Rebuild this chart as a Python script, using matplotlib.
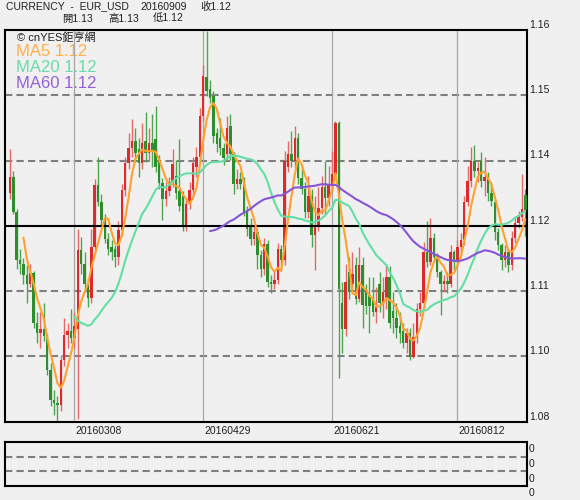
import matplotlib
matplotlib.use('Agg')
import matplotlib.pyplot as plt
import numpy as np

plt.rcParams['font.family'] = ['Liberation Sans', 'Noto Sans CJK TC', 'DejaVu Sans']

# ---------------- data ----------------
opens = [
    1.1266, 1.1299, 1.1229, 1.1130, 1.1122, 1.1099, 1.1080, 1.1103, 1.1002, 1.0981,
    1.0990, 1.0975, 1.0905, 1.0843, 1.0837, 1.0833, 1.0926, 1.0977, 1.0985, 1.0971,
    1.0990, 1.1151, 1.1122, 1.1080, 1.1053, 1.1157, 1.1284, 1.1249, 1.1212, 1.1173,
    1.1157, 1.1153, 1.1136, 1.1192, 1.1274, 1.1328, 1.1359, 1.1373, 1.1357, 1.1328,
    1.1373, 1.1348, 1.1369, 1.1378, 1.1330, 1.1287, 1.1254, 1.1270, 1.1290, 1.1301,
    1.1270, 1.1260, 1.1198, 1.1245, 1.1274, 1.1320, 1.1340, 1.1424, 1.1503, 1.1480,
    1.1466, 1.1390, 1.1380, 1.1359, 1.1346, 1.1404, 1.1346, 1.1285, 1.1295, 1.1291,
    1.1229, 1.1200, 1.1173, 1.1188, 1.1140, 1.1111, 1.1163, 1.1085, 1.1080, 1.1090,
    1.1153, 1.1130, 1.1320, 1.1346, 1.1332, 1.1380, 1.1297, 1.1276, 1.1229, 1.1260,
    1.1182, 1.1200, 1.1236, 1.1280, 1.1256, 1.1284, 1.1305, 1.1410, 1.1043, 1.0990,
    1.1105, 1.1080, 1.1120, 1.1051, 1.1120, 1.1070, 1.1058, 1.1050, 1.1023, 1.1080,
    1.1043, 1.1051, 1.1095, 1.1025, 1.1012, 1.0995, 1.0985, 1.0961, 1.0981, 1.0932,
    1.0973, 1.1029, 1.1043, 1.1146, 1.1126, 1.1175, 1.1136, 1.1105, 1.1080, 1.1088,
    1.1080, 1.1146, 1.1126, 1.1157, 1.1170, 1.1249, 1.1291, 1.1332, 1.1311, 1.1332,
    1.1291, 1.1301, 1.1266, 1.1249, 1.1188, 1.1160, 1.1130, 1.1146, 1.1120, 1.1175,
    1.1205, 1.1218, 1.1262,
]
highs = [
    1.1357, 1.1311, 1.1235, 1.1153, 1.1134, 1.1120, 1.1122, 1.1108, 1.1023, 1.1023,
    1.1043, 1.0981, 1.0920, 1.0864, 1.0852, 1.0936, 1.1012, 1.1002, 1.1029, 1.1023,
    1.1194, 1.1177, 1.1146, 1.1094, 1.1194, 1.1295, 1.1340, 1.1265, 1.1225, 1.1185,
    1.1170, 1.1160, 1.1210, 1.1285, 1.1340, 1.1390, 1.1418, 1.1400, 1.1380, 1.1410,
    1.1433, 1.1400, 1.1429, 1.1445, 1.1345, 1.1297, 1.1290, 1.1300, 1.1357, 1.1335,
    1.1377, 1.1270, 1.1255, 1.1290, 1.1340, 1.1360, 1.1440, 1.1528, 1.1598, 1.1497,
    1.1475, 1.1400, 1.1420, 1.1370, 1.1425, 1.1429, 1.1350, 1.1315, 1.1310, 1.1300,
    1.1240, 1.1215, 1.1200, 1.1195, 1.1150, 1.1175, 1.1170, 1.1100, 1.1110, 1.1165,
    1.1160, 1.1353, 1.1373, 1.1394, 1.1404, 1.1390, 1.1322, 1.1290, 1.1301, 1.1275,
    1.1260, 1.1280, 1.1301, 1.1332, 1.1322, 1.1353, 1.1414, 1.1414, 1.1085, 1.1122,
    1.1136, 1.1146, 1.1136, 1.1157, 1.1136, 1.1080, 1.1095, 1.1095, 1.1075, 1.1105,
    1.1095, 1.1122, 1.1118, 1.1064, 1.1043, 1.1023, 1.1002, 1.0992, 1.0992, 1.1002,
    1.1043, 1.1064, 1.1167, 1.1210, 1.1215, 1.1185, 1.1145, 1.1110, 1.1100, 1.1105,
    1.1160, 1.1150, 1.1170, 1.1185, 1.1260, 1.1322, 1.1360, 1.1365, 1.1330, 1.1350,
    1.1340, 1.1310, 1.1290, 1.1255, 1.1195, 1.1165, 1.1160, 1.1155, 1.1190, 1.1215,
    1.1230, 1.1305, 1.1275,
]
lows = [
    1.1254, 1.1223, 1.1111, 1.1101, 1.1080, 1.1043, 1.1074, 1.0992, 1.0961, 1.0951,
    1.0965, 1.0895, 1.0831, 1.0813, 1.0802, 1.0821, 1.0914, 1.0951, 1.0961, 1.0951,
    1.0805, 1.1101, 1.1064, 1.1033, 1.1043, 1.1150, 1.1240, 1.1200, 1.1165, 1.1140,
    1.1130, 1.1115, 1.1120, 1.1180, 1.1260, 1.1315, 1.1340, 1.1330, 1.1300, 1.1315,
    1.1330, 1.1335, 1.1320, 1.1310, 1.1275, 1.1212, 1.1240, 1.1260, 1.1280, 1.1255,
    1.1230, 1.1190, 1.1190, 1.1235, 1.1260, 1.1300, 1.1330, 1.1415, 1.1465, 1.1450,
    1.1370, 1.1350, 1.1345, 1.1325, 1.1335, 1.1335, 1.1264, 1.1275, 1.1275, 1.1220,
    1.1180, 1.1160, 1.1160, 1.1111, 1.1095, 1.1100, 1.1075, 1.1062, 1.1070, 1.1080,
    1.1115, 1.1120, 1.1310, 1.1320, 1.1320, 1.1285, 1.1265, 1.1215, 1.1215, 1.1157,
    1.1110, 1.1190, 1.1225, 1.1225, 1.1240, 1.1270, 1.1295, 1.0889, 1.0940, 1.0975,
    1.1050, 1.1065, 1.1040, 1.1045, 1.0992, 1.1020, 1.0981, 1.1015, 1.1002, 1.1023,
    1.1012, 1.1029, 1.0992, 1.0981, 1.0971, 1.0961, 1.0951, 1.0940, 1.0926, 1.0930,
    1.0961, 1.1015, 1.1035, 1.1115, 1.1120, 1.1125, 1.1095, 1.1018, 1.1065, 1.1062,
    1.1075, 1.1110, 1.1115, 1.1145, 1.1160, 1.1240, 1.1280, 1.1300, 1.1290, 1.1280,
    1.1260, 1.1250, 1.1240, 1.1170, 1.1150, 1.1110, 1.1115, 1.1105, 1.1110, 1.1165,
    1.1195, 1.1210, 1.1180,
]
closes = [
    1.1299, 1.1229, 1.1130, 1.1122, 1.1099, 1.1080, 1.1103, 1.1002, 1.0981, 1.0990,
    1.0975, 1.0905, 1.0843, 1.0837, 1.0833, 1.0926, 1.0977, 1.0985, 1.0971, 1.0996,
    1.1151, 1.1122, 1.1080, 1.1053, 1.1157, 1.1284, 1.1249, 1.1212, 1.1173, 1.1153,
    1.1146, 1.1136, 1.1192, 1.1274, 1.1328, 1.1359, 1.1373, 1.1348, 1.1328, 1.1369,
    1.1348, 1.1369, 1.1350, 1.1320, 1.1287, 1.1254, 1.1270, 1.1290, 1.1326, 1.1266,
    1.1240, 1.1198, 1.1245, 1.1274, 1.1328, 1.1340, 1.1424, 1.1507, 1.1476, 1.1462,
    1.1384, 1.1367, 1.1359, 1.1338, 1.1400, 1.1346, 1.1285, 1.1295, 1.1285, 1.1229,
    1.1194, 1.1173, 1.1188, 1.1140, 1.1111, 1.1163, 1.1085, 1.1080, 1.1090, 1.1153,
    1.1130, 1.1332, 1.1346, 1.1332, 1.1380, 1.1297, 1.1276, 1.1229, 1.1260, 1.1182,
    1.1200, 1.1236, 1.1280, 1.1256, 1.1284, 1.1305, 1.1410, 1.1070, 1.0990, 1.1085,
    1.1064, 1.1101, 1.1051, 1.1120, 1.1039, 1.1037, 1.1037, 1.1023, 1.1037, 1.1043,
    1.1064, 1.1095, 1.1002, 1.1012, 1.0992, 1.0981, 1.0961, 1.0981, 1.0932, 1.0973,
    1.1029, 1.1043, 1.1146, 1.1126, 1.1175, 1.1136, 1.1105, 1.1080, 1.1088, 1.1080,
    1.1146, 1.1126, 1.1157, 1.1170, 1.1249, 1.1291, 1.1332, 1.1311, 1.1318, 1.1291,
    1.1300, 1.1266, 1.1250, 1.1188, 1.1160, 1.1130, 1.1146, 1.1120, 1.1175, 1.1205,
    1.1218, 1.1235, 1.1232,
]

date_index = [19, 57, 95, 132]
date_labels = ['20160308', '20160429', '20160621', '20160812']
y_min, y_max = 1.08, 1.16
y_tick_labels = ['1.08', '1.10', '1.11', '1.12', '1.14', '1.15', '1.16']
ma_periods = [5, 20, 60]
ma_texts = ['MA5 1.12', 'MA20 1.12', 'MA60 1.12']
header_1 = ['CURRENCY  -  EUR_USD', '20160909', '收1.12']
header_2 = ['開1.13', '高1.13', '低1.12']
sub_labels = ['0', '0', '0', '0']

# ---------------- styling ----------------
BG = '#F0F0F0'
RED, RED_W = '#DD2A2A', '#E46A6A'
GRN, GRN_W = '#2E8E2E', '#4FA44F'
MA_LINE = ['#FFA12E', '#62DFA3', '#8756D8']
MA_TXT = ['#FFB04A', '#6ADBA8', '#9461D6']

W, H = 580, 500
fig = plt.figure(figsize=(W / 100, H / 100), dpi=100, facecolor=BG)


def fx(p):
    return p / W


def fy(p):
    return 1 - p / H


L, R, T, B = 5, 527, 30, 421.5
ax = fig.add_axes([fx(L), fy(B), (R - L) / W, (B - T) / H])
ax.set_facecolor(BG)

o = np.array(opens)
h = np.array(highs)
lo = np.array(lows)
c = np.array(closes)
n = min(len(o), len(h), len(lo), len(c))
o, h, lo, c = o[:n], h[:n], lo[:n], c[:n]
x = np.arange(n)

ax.set_xlim(-1.45, n - 1 + 0.5)
ax.set_ylim(y_min, y_max)

grid = np.linspace(y_min, y_max, 7)
for k, g in enumerate(grid[1:-1], start=1):
    if k == 3:
        ax.axhline(g, color='black', lw=1.5, zorder=4)
    else:
        ax.axhline(g, color='#7F7F7F', lw=1.5, ls=(0, (3.5, 2.0)), zorder=1)

for di in date_index:
    ax.axvline(di, color='#A6A6A6', lw=0.9, zorder=1)

up = c >= o
ax.vlines(x, lo, h, colors=np.where(up, RED_W, GRN_W), lw=1.0, zorder=2)
ax.bar(x, np.maximum(np.abs(c - o), 0.00015), bottom=np.minimum(o, c),
       width=0.72, color=np.where(up, RED, GRN), linewidth=0, zorder=3)

for p, col in zip(ma_periods, MA_LINE):
    m = np.convolve(c, np.ones(p) / p, mode='valid')
    ax.plot(x[p - 1:], m, color=col, lw=1.5, zorder=5, solid_capstyle='round')

ax.yaxis.tick_right()
ax.set_yticks(grid)
ax.set_yticklabels(y_tick_labels)
ax.tick_params(axis='y', length=0, pad=1.5, labelsize=7.5, colors='#202020')
for lab in ax.get_yticklabels():
    lab.set_va('bottom')
ax.set_xticks([])
for s in ax.spines.values():
    s.set_linewidth(1.5)
    s.set_color('black')

xt = ax.get_xaxis_transform()
for di, lab in zip(date_index, date_labels):
    ax.text(di + 0.4, -0.011, lab, transform=xt, ha='left', va='top',
            fontsize=7.5, color='#202020', clip_on=False)

# legend texts inside chart
ax.text(fx(17), fy(38), '© cnYES鉅亨網', transform=fig.transFigure,
        ha='left', va='center', fontsize=8, color='#202020', zorder=0.5)
for k, (t, col) in enumerate(zip(ma_texts, MA_TXT)):
    ax.text(fx(16), fy(52 + 15.5 * k), t, transform=fig.transFigure,
            ha='left', va='center', fontsize=12, color=col, zorder=0.5)

# header
hx1 = [6, 140, 200]
for xp, t in zip(hx1, header_1):
    fig.text(fx(xp), fy(1.5), t, ha='left', va='top', fontsize=7.5, color='#202020')
hx2 = [62, 108, 153]
for xp, t in zip(hx2, header_2):
    fig.text(fx(xp), fy(13.5), t, ha='left', va='top', fontsize=7.5, color='#202020')

# lower (empty) panel
T2, B2 = 442, 486
ax2 = fig.add_axes([fx(L), fy(B2), (R - L) / W, (B2 - T2) / H])
ax2.set_facecolor(BG)
ax2.set_xlim(-1.45, n - 1 + 0.5)
ax2.set_ylim(0, 3)
for g in [1, 2]:
    ax2.axhline(g, color='#7F7F7F', lw=1.5, ls=(0, (3.5, 2.0)))
ax2.set_xticks([])
ax2.set_yticks([])
for s in ax2.spines.values():
    s.set_linewidth(1.5)
    s.set_color('black')
for k, t in enumerate(sub_labels):
    fig.text(fx(528.5), fy(T2 + 2.5 + k * (B2 - T2) / 3), t, ha='left', va='top',
             fontsize=7.5, color='#202020')

fig.savefig('out.png', dpi=100, facecolor=BG)
